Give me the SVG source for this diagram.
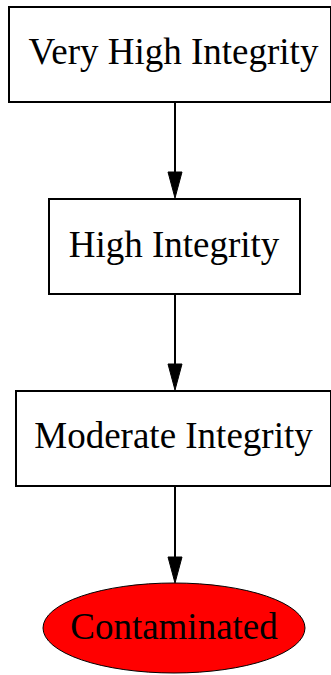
<svg xmlns="http://www.w3.org/2000/svg" width="331" height="675" viewBox="0 0 331 675">
<style>
.box{fill:#fff;stroke:#000;stroke-width:2}
.lbl{font-family:"Liberation Serif","Times New Roman",serif;font-size:37px;text-anchor:middle;fill:#000}
.edge{stroke:#000;stroke-width:2;fill:none}
.head{fill:#000;stroke:#000;stroke-width:1}
</style>
<rect width="331" height="675" fill="#fff"/>
<g id="edges">
<line class="edge" x1="175" y1="102" x2="175" y2="172"/>
<path class="head" d="M168,172 L182,172 L175,198 Z"/>
<line class="edge" x1="175" y1="294" x2="175" y2="364"/>
<path class="head" d="M168,364 L182,364 L175,390 Z"/>
<line class="edge" x1="175" y1="486" x2="175" y2="557"/>
<path class="head" d="M168,557 L182,557 L175,583 Z"/>
</g>
<g id="veryhigh">
<rect class="box" x="9" y="7" width="322" height="95"/>
<text class="lbl" x="173.5" y="64">Very High Integrity</text>
</g>
<g id="high">
<rect class="box" x="49" y="199" width="251" height="95"/>
<text class="lbl" x="174" y="257">High Integrity</text>
</g>
<g id="moderate">
<rect class="box" x="16" y="391" width="315" height="95"/>
<text class="lbl" x="173.5" y="448">Moderate Integrity</text>
</g>
<g id="contaminated">
<ellipse cx="174" cy="628" rx="131" ry="45" fill="#f00" stroke="#000" stroke-width="1"/>
<text class="lbl" x="174" y="639">Contaminated</text>
</g>
</svg>
